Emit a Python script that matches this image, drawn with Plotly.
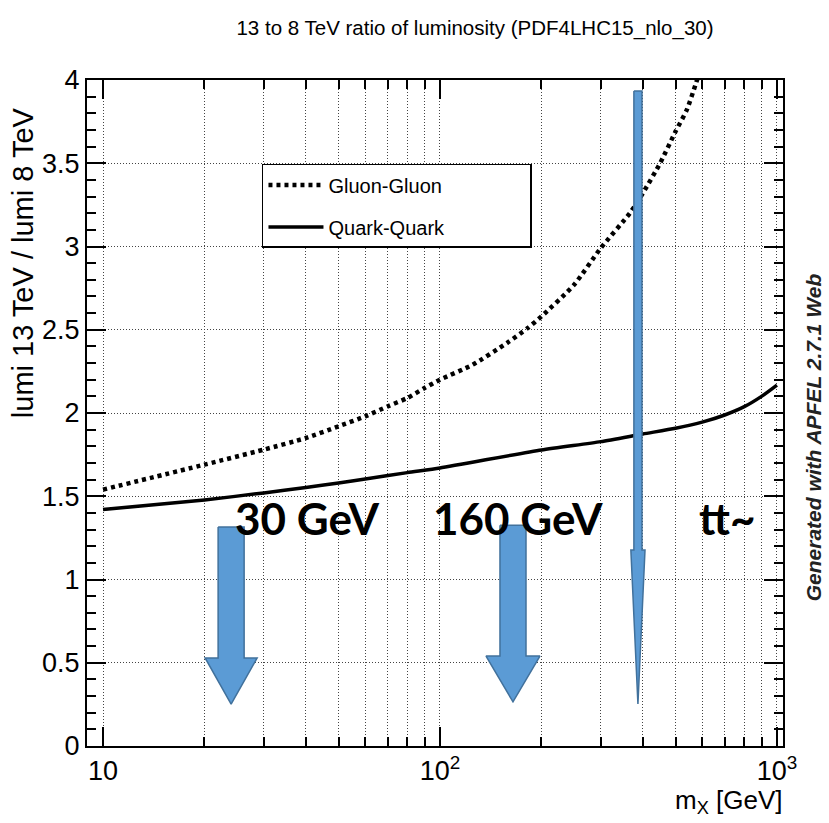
import numpy as np
import plotly.graph_objects as go

# ---------------- data ----------------
title_text = "13 to 8 TeV ratio of luminosity (PDF4LHC15_nlo_30)"
y_title = "lumi 13 TeV / lumi 8 TeV"
x_title = "m<sub>X</sub> [GeV]"
watermark = "Generated with APFEL 2.7.1 Web"

gg_mass = [10, 20, 30, 40, 50, 60, 70, 80, 90, 100, 125, 158, 182, 200, 250, 300, 366, 400, 450, 500, 540, 575, 610]
gg_ratio = [1.54, 1.69, 1.78, 1.85, 1.92, 1.98, 2.04, 2.09, 2.15, 2.20, 2.29, 2.42, 2.51, 2.58, 2.77, 2.99, 3.20, 3.32, 3.50, 3.69, 3.82, 3.98, 4.14]

qq_mass = [10, 20, 30, 40, 50, 60, 80, 100, 200, 300, 400, 500, 600, 700, 800, 900, 1000]
qq_ratio = [1.42, 1.478, 1.52, 1.553, 1.58, 1.603, 1.642, 1.67, 1.778, 1.828, 1.874, 1.908, 1.945, 1.988, 2.038, 2.10, 2.168]

x_tick_vals = [10, 100, 1000]
x_tick_text = ["10", "10<sup>2</sup>", "10<sup>3</sup>"]
x_minor_vals = [20, 30, 40, 50, 60, 70, 80, 90, 200, 300, 400, 500, 600, 700, 800, 900]

# annotation arrows (mass position, top, head base, tip in ratio units)
arrow_mass = [24.0, 164.7, 386.8]
arrow_top = [1.315, 1.326, 3.934]
arrow_head = [0.529, 0.54, 1.177]
arrow_tip = [0.252, 0.265, 0.252]

label_text = ["30 GeV", "160 GeV", "tt~"]
label_mass = [40.3, 170.0, 712.0]
label_ratio = [1.37, 1.37, 1.37]

# ---------------- styles ----------------
shaft_half = [0.0386, 0.0386, 0.012]   # half widths in decades
head_half = [0.0772, 0.080, 0.021]
arrow_fill = "#5B9BD5"
arrow_edge = "#41719C"
FONT = "Liberation Sans, Arial, sans-serif"
PAD = "&nbsp;" * 15

fig = go.Figure()

fig.add_trace(go.Scatter(
    x=gg_mass, y=gg_ratio, mode="lines", name="Gluon-Gluon" + PAD,
    legendgroup="gg",
    line=dict(color="black", width=4.5, dash="4px,4px", shape="spline", smoothing=0.6),
))
fig.add_trace(go.Scatter(
    x=qq_mass, y=qq_ratio, mode="lines", name="Quark-Quark",
    legendgroup="qq",
    line=dict(color="black", width=3.5, shape="spline", smoothing=0.6),
))

for m, top, hb, tip, sw, hw in zip(arrow_mass, arrow_top, arrow_head, arrow_tip, shaft_half, head_half):
    c = np.log10(m)
    xs = [c - sw, c + sw, c + sw, c + hw, c, c - hw, c - sw, c - sw]
    ys = [top, top, hb, hb, tip, hb, hb, top]
    fig.add_trace(go.Scatter(
        x=[10 ** v for v in xs], y=ys, mode="lines", fill="toself",
        fillcolor=arrow_fill, line=dict(color=arrow_edge, width=1.5),
        showlegend=False, hoverinfo="skip",
    ))

for t, m, r in zip(label_text, label_mass, label_ratio):
    fig.add_annotation(
        x=np.log10(m), y=r, xref="x", yref="y", text="<b>" + t + "</b>",
        showarrow=False, xanchor="center", yanchor="middle",
        font=dict(family="Lato, Open Sans, sans-serif", size=44, color="black"),
    )

# y-axis title (top aligned as in ROOT)
fig.add_annotation(
    x=-0.091, y=0.726, xref="paper", yref="paper", text=y_title, textangle=-90,
    showarrow=False, xanchor="center", yanchor="middle",
    font=dict(family=FONT, size=29, color="black"),
)
# x-axis title
fig.add_annotation(
    x=1.003, y=-0.084, xref="paper", yref="paper", text=x_title,
    showarrow=False, xanchor="right", yanchor="middle",
    font=dict(family=FONT, size=26, color="black"),
)
# watermark
fig.add_annotation(
    x=1.045, y=0.464, xref="paper", yref="paper", text="<b><i>" + watermark + "</i></b>",
    textangle=-90, showarrow=False, xanchor="center", yanchor="middle",
    font=dict(family="Liberation Sans, Arial, sans-serif", size=21, color="#222222"),
)

grid_dash = "1px,2px"
grid_color = "#444444"

fig.update_layout(
    width=829, height=823, autosize=False,
    margin=dict(l=87, r=46, t=80, b=77),
    paper_bgcolor="white", plot_bgcolor="white",
    title=dict(text=title_text, x=0.573, xanchor="center", y=0.966, yanchor="middle",
               font=dict(family=FONT, size=20.5, color="black")),
    showlegend=True,
    legend=dict(x=0.2514, y=0.874, xanchor="left", yanchor="top",
                bgcolor="white", bordercolor="black", borderwidth=1.5,
                font=dict(family=FONT, size=20, color="black"),
                itemwidth=55, tracegroupgap=13),
    xaxis=dict(
        type="log", range=[0.9525, 3.018],
        tickmode="array", tickvals=x_tick_vals, ticktext=x_tick_text,
        ticks="inside", ticklen=19, tickwidth=1.5, tickcolor="black",
        showline=True, linecolor="black", linewidth=2, mirror="allticks",
        showgrid=True, gridcolor=grid_color, griddash=grid_dash, gridwidth=1,
        minor=dict(tickmode="array", tickvals=x_minor_vals, ticks="inside", ticklen=9,
                   tickwidth=1.5, tickcolor="black", showgrid=True,
                   gridcolor=grid_color, griddash=grid_dash, gridwidth=1),
        tickfont=dict(family=FONT, size=27, color="black"),
        zeroline=False,
    ),
    yaxis=dict(
        range=[0, 4], dtick=0.5, tick0=0,
        ticks="inside", ticklen=19, tickwidth=1.5, tickcolor="black",
        showline=True, linecolor="black", linewidth=2, mirror="allticks",
        showgrid=True, gridcolor=grid_color, griddash=grid_dash, gridwidth=1,
        minor=dict(dtick=0.1, ticks="inside", ticklen=9, tickwidth=1.5,
                   tickcolor="black", showgrid=False),
        tickfont=dict(family=FONT, size=27, color="black"),
        zeroline=False,
    ),
)

fig.write_html("out.html")
